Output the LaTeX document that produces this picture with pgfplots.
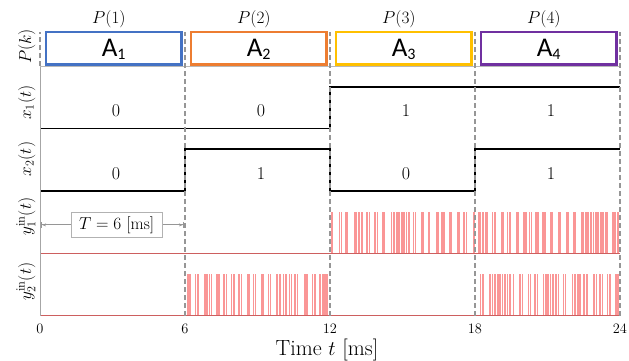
\documentclass[border=0pt]{standalone}
\usepackage{pgfplots}
\pgfplotsset{compat=1.18}
\usepackage{fontspec}
\newfontfamily\calibri{Carlito}
\usetikzlibrary{arrows.meta}
\definecolor{cA}{RGB}{68,114,196}
\definecolor{cB}{RGB}{237,125,49}
\definecolor{cC}{RGB}{255,192,0}
\definecolor{cD}{RGB}{112,48,160}
\definecolor{spk}{RGB}{250,150,150}
\definecolor{basered}{RGB}{205,95,95}
\definecolor{dgray}{RGB}{150,150,150}
\newcommand\lf{\fontsize{18}{21}\selectfont}
\newcommand\Alab[1]{{\calibri\fontsize{27}{30}\selectfont A\raisebox{-3pt}{\fontsize{16}{16}\selectfont #1}}}
\pgfplotsset{
 panel/.style={scale only axis, width=580pt, height=62.4pt, xmin=0, xmax=24,
   ymin=0, ymax=1.5, hide axis, anchor=south west, clip=false},
 sig/.style={black, line width=1.8pt, line join=miter},
 spikes/.style={ycomb, spk, line width=1.7pt, mark=none},
 base/.style={basered, line width=0.9pt},
}
\begin{document}
\begin{tikzpicture}
\path[use as bounding box] (0,0) rectangle (629pt,360pt);
% ---------- P(k) panel
\begin{axis}[panel, at={(40pt,294pt)}, height=38pt, ymin=0, ymax=1]
\addplot[cA, line width=2.4pt, line join=miter] coordinates {(0.24,0.035)(5.86,0.035)(5.86,0.887)(0.24,0.887)(0.24,0.035)(5.86,0.035)};
\addplot[cB, line width=2.4pt, line join=miter] coordinates {(6.24,0.035)(11.86,0.035)(11.86,0.887)(6.24,0.887)(6.24,0.035)(11.86,0.035)};
\addplot[cC, line width=2.4pt, line join=miter] coordinates {(12.24,0.035)(17.86,0.035)(17.86,0.887)(12.24,0.887)(12.24,0.035)(17.86,0.035)};
\addplot[cD, line width=2.4pt, line join=miter] coordinates {(18.24,0.035)(23.86,0.035)(23.86,0.887)(18.24,0.887)(18.24,0.035)(23.86,0.035)};
\node at (axis cs:3.05,0.43) {\Alab{1}};
\node at (axis cs:9.05,0.43) {\Alab{2}};
\node at (axis cs:15.05,0.43) {\Alab{3}};
\node at (axis cs:21.05,0.43) {\Alab{4}};
\node[font=\lf] at (axis cs:2.85,1.22) {$P(1)$};
\node[font=\lf] at (axis cs:8.85,1.22) {$P(2)$};
\node[font=\lf] at (axis cs:14.85,1.22) {$P(3)$};
\node[font=\lf] at (axis cs:20.85,1.22) {$P(4)$};
\end{axis}
% ---------- x1
\begin{axis}[panel, at={(40pt,231.6pt)}]
\addplot[sig] coordinates {(0,0)(12,0)(12,1)(24,1)};
\node[font=\lf] at (axis cs:3.15,0.425) {0};
\node[font=\lf] at (axis cs:9.15,0.425) {0};
\node[font=\lf] at (axis cs:15.15,0.425) {1};
\node[font=\lf] at (axis cs:21.15,0.425) {1};
\end{axis}
% ---------- x2
\begin{axis}[panel, at={(40pt,169.2pt)}]
\addplot[sig] coordinates {(0,0)(6,0)(6,1)(12,1)(12,0)(18,0)(18,1)(24,1)};
\node[font=\lf] at (axis cs:3.15,0.42) {0};
\node[font=\lf] at (axis cs:9.15,0.42) {1};
\node[font=\lf] at (axis cs:15.15,0.42) {0};
\node[font=\lf] at (axis cs:21.15,0.42) {1};
\end{axis}
% ---------- y1 in
\begin{axis}[panel, at={(40pt,106.8pt)}]
\addplot[spikes] coordinates {
(12.07,1)(12.39,1)(12.48,1)(12.66,1)(12.73,1)(13.02,1)(13.10,1)(13.21,1)(13.31,1)(13.52,1)
(13.63,1)(13.86,1)(13.96,1)(14.18,1)(14.25,1)(14.55,1)(14.65,1)(14.76,1)(14.86,1)(14.97,1)
(15.06,1)(15.17,1)(15.28,1)(15.45,1)(15.54,1)(15.79,1)(15.86,1)(16.11,1)(16.41,1)(16.48,1)
(16.63,1)(16.72,1)(16.94,1)(17.02,1)(17.27,1)(17.35,1)(17.54,1)(17.65,1)(17.97,1)(18.14,1)
(18.21,1)(18.34,1)(18.44,1)(18.51,1)(18.73,1)(18.83,1)(19.12,1)(19.17,1)(19.34,1)(19.45,1)
(19.72,1)(19.79,1)(20.03,1)(20.11,1)(20.25,1)(20.34,1)(20.52,1)(20.62,1)(20.80,1)(20.90,1)
(21.13,1)(21.20,1)(21.45,1)(21.52,1)(21.79,1)(21.86,1)(22.07,1)(22.14,1)(22.41,1)(22.48,1)
(22.58,1)(22.69,1)(22.79,1)(22.90,1)(23.01,1)(23.10,1)(23.20,1)(23.31,1)(23.42,1)(23.48,1)
(23.72,1)(23.79,1)(23.93,1)};
\addplot[base] coordinates {(0,0)(24,0)};
\draw[dgray, line width=0.9pt, {Bar[width=6pt]Stealth[length=4pt,width=3pt]}-{Stealth[length=4pt,width=3pt]Bar[width=6pt]}] (axis cs:0.05,0.68) -- (axis cs:5.95,0.68);
\node[draw=gray!60, fill=white, line width=0.8pt, font=\fontsize{17}{20}\selectfont, inner xsep=8pt, inner ysep=4pt] at (axis cs:3.17,0.68) {$T=6$ [ms]};
\end{axis}
% ---------- y2 in
\begin{axis}[panel, at={(40pt,44.4pt)}]
\addplot[spikes] coordinates {
(6.12,1)(6.21,1)(6.44,1)(6.55,1)(6.83,1)(6.90,1)(7.01,1)(7.10,1)(7.31,1)(7.41,1)
(7.61,1)(7.72,1)(7.93,1)(8.03,1)(8.23,1)(8.34,1)(8.58,1)(8.66,1)(8.83,1)(8.92,1)
(9.17,1)(9.24,1)(9.45,1)(9.54,1)(9.82,1)(9.93,1)(10.07,1)(10.18,1)(10.32,1)(10.41,1)
(10.55,1)(10.65,1)(10.97,1)(11.06,1)(11.28,1)(11.38,1)(11.59,1)(11.70,1)(11.79,1)(11.89,1)
(18.23,1)(18.34,1)(18.62,1)(18.73,1)(18.83,1)(18.94,1)(19.03,1)(19.14,1)(19.24,1)(19.34,1)
(19.45,1)(19.59,1)(19.86,1)(19.97,1)(20.21,1)(20.30,1)(20.48,1)(20.58,1)(20.83,1)(20.94,1)
(21.03,1)(21.13,1)(21.24,1)(21.35,1)(21.45,1)(21.66,1)(21.75,1)(22.03,1)(22.14,1)(22.25,1)
(22.34,1)(22.51,1)(22.62,1)(22.92,1)(23.03,1)(23.17,1)(23.28,1)(23.48,1)(23.59,1)(23.83,1)
(23.93,1)};
\addplot[base] coordinates {(0,0)(24,0)};
\end{axis}
% ---------- overlay: frame, dashed separators, x ticks
\begin{axis}[scale only axis, width=580pt, height=283.6pt, at={(40pt,44.4pt)}, anchor=south west,
  xmin=0, xmax=24, ymin=44.4, ymax=328, clip=false,
  axis line style={draw=none}, ytick=\empty, xtick={0,6,12,18,24}, major tick length=0pt,
  xticklabel style={font=\fontsize{14}{14}\selectfont, yshift=-5pt}]
\addplot[gray!70, line width=0.8pt] coordinates {(0,294)(0,44.4)};
\addplot[gray!55, line width=0.7pt] coordinates {(0,294)(24,294)};
\addplot[dgray, line width=1.3pt, dash pattern=on 5pt off 3pt] coordinates {(0,294)(0,328)};
\addplot[dgray, line width=1.3pt, dash pattern=on 5pt off 3pt] coordinates {(6,44.4)(6,328)};
\addplot[dgray, line width=1.3pt, dash pattern=on 5pt off 3pt] coordinates {(12,44.4)(12,328)};
\addplot[dgray, line width=1.3pt, dash pattern=on 5pt off 3pt] coordinates {(18,44.4)(18,328)};
\addplot[dgray, line width=1.3pt, dash pattern=on 5pt off 3pt] coordinates {(24,44.4)(24,328)};
\end{axis}
% ---------- labels
\node[rotate=90, anchor=base, font=\lf] at (31pt,313.5pt) {$P(k)$};
\node[rotate=90, anchor=base, font=\lf] at (31pt,257.5pt) {$x_1(t)$};
\node[rotate=90, anchor=base, font=\lf] at (31pt,201pt) {$x_2(t)$};
\node[rotate=90, anchor=base, font=\lf] at (31pt,143.3pt) {$y_1^{\mathrm{in}}(t)$};
\node[rotate=90, anchor=base, font=\lf] at (31pt,78.3pt) {$y_2^{\mathrm{in}}(t)$};
\node[font=\fontsize{22}{24}\selectfont, anchor=base] at (327pt,4.5pt) {Time $t$ [ms]};
\end{tikzpicture}
\end{document}
